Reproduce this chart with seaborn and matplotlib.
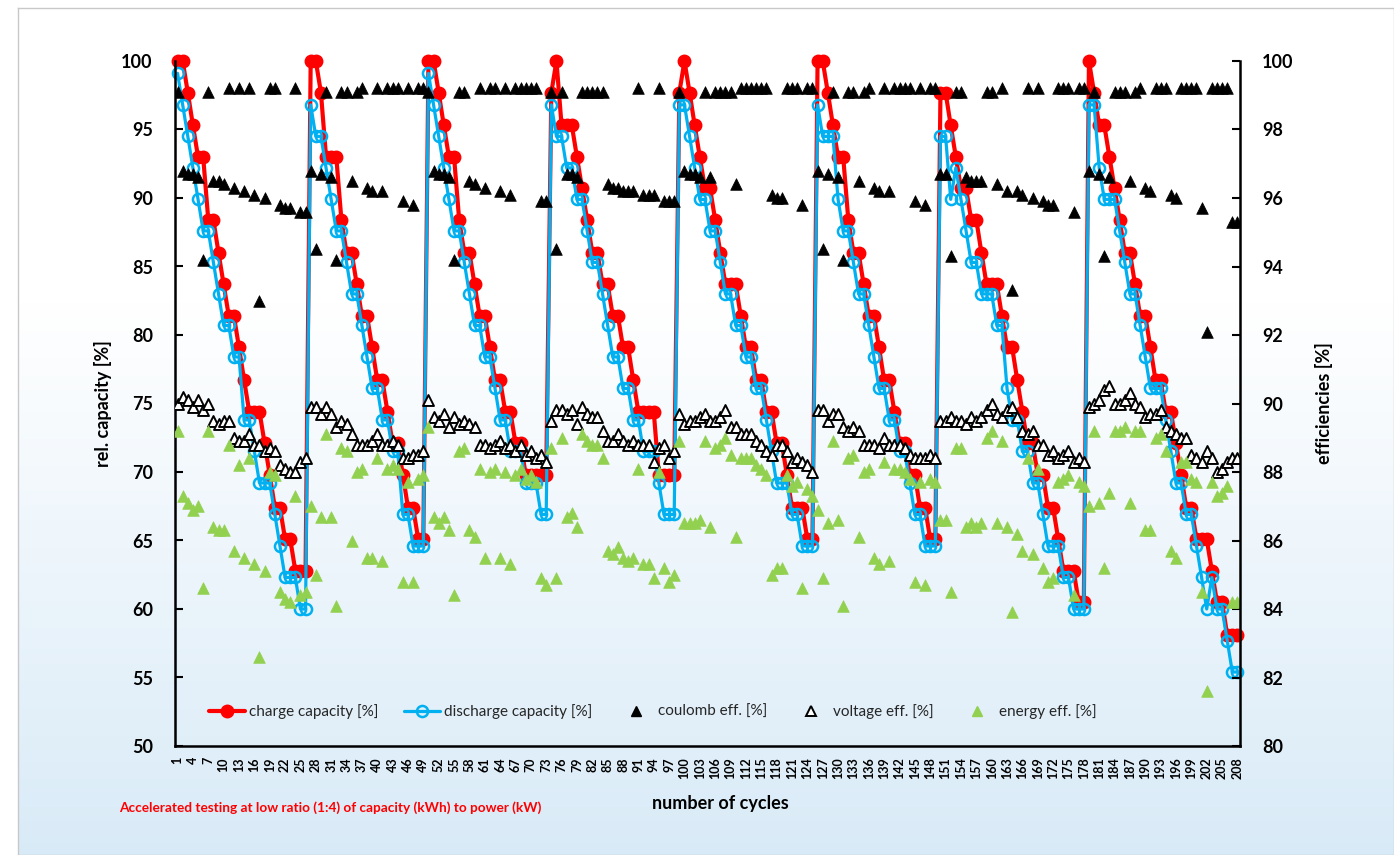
import numpy as np
import matplotlib
matplotlib.use("Agg")
import matplotlib.pyplot as plt
from matplotlib.lines import Line2D
import seaborn as sns

# categories on the x axis
cycles = list(range(1, 209))

# relative capacities [%], one row per charge/discharge block
charge_cap = [
    100.0, 100.0, 97.7, 95.3, 93.0, 93.0, 88.4, 88.4, 86.0, 83.7, 81.4, 81.4, 79.1, 76.7, 74.4, 74.4, 74.4, 72.1, 69.8, 67.4, 67.4, 65.1, 65.1, 62.8, 62.8, 62.8,
    100.0, 100.0, 97.7, 93.0, 93.0, 93.0, 88.4, 86.0, 86.0, 83.7, 81.4, 81.4, 79.1, 76.7, 76.7, 74.4, 72.1, 72.1, 69.8, 67.4, 67.4, 65.1, 65.1,
    100.0, 100.0, 97.7, 95.3, 93.0, 93.0, 88.4, 86.0, 86.0, 83.7, 81.4, 81.4, 79.1, 76.7, 76.7, 74.4, 74.4, 72.1, 72.1, 69.8, 69.8, 69.8, 69.8, 69.8,
    97.7, 100.0, 95.3, 95.3, 95.3, 93.0, 90.7, 88.4, 86.0, 86.0, 83.7, 83.7, 81.4, 81.4, 79.1, 79.1, 76.7, 74.4, 74.4, 74.4, 74.4, 69.8, 69.8, 69.8, 69.8,
    97.7, 100.0, 97.7, 95.3, 93.0, 90.7, 90.7, 88.4, 86.0, 83.7, 83.7, 83.7, 81.4, 79.1, 79.1, 76.7, 76.7, 74.4, 74.4, 72.1, 72.1, 69.8, 67.4, 67.4, 67.4, 65.1, 65.1,
    100.0, 100.0, 97.7, 95.3, 93.0, 93.0, 88.4, 86.0, 86.0, 83.7, 81.4, 81.4, 79.1, 76.7, 76.7, 74.4, 72.1, 72.1, 69.8, 69.8, 67.4, 67.4, 65.1, 65.1,
    97.7, 97.7, 95.3, 93.0, 90.7, 90.7, 88.4, 88.4, 86.0, 83.7, 83.7, 83.7, 81.4, 79.1, 79.1, 76.7, 74.4, 72.1, 72.1, 69.8, 69.8, 67.4, 67.4, 65.1, 62.8, 62.8, 62.8, 60.5, 60.5,
    100.0, 97.7, 95.3, 95.3, 93.0, 90.7, 88.4, 86.0, 86.0, 83.7, 81.4, 81.4, 79.1, 76.7, 76.7, 74.4, 74.4, 72.1, 69.8, 67.4, 67.4, 65.1, 65.1, 65.1, 62.8, 60.5, 60.5, 58.1, 58.1, 58.1,
]
discharge_cap = [
    99.1, 96.8, 94.5, 92.2, 89.9, 87.6, 87.6, 85.3, 83.0, 80.7, 80.7, 78.4, 78.4, 73.8, 73.8, 71.5, 69.2, 69.2, 69.2, 66.9, 64.6, 62.3, 62.3, 62.3, 60.0, 60.0,
    96.8, 94.5, 94.5, 92.2, 89.9, 87.6, 87.6, 85.3, 83.0, 83.0, 80.7, 78.4, 76.1, 76.1, 73.8, 73.8, 71.5, 71.5, 66.9, 66.9, 64.6, 64.6, 64.6,
    99.1, 96.8, 94.5, 92.2, 89.9, 87.6, 87.6, 85.3, 83.0, 80.7, 80.7, 78.4, 78.4, 76.1, 73.8, 73.8, 71.5, 71.5, 71.5, 69.2, 69.2, 69.2, 66.9, 66.9,
    96.8, 94.5, 94.5, 92.2, 92.2, 89.9, 89.9, 87.6, 85.3, 85.3, 83.0, 80.7, 78.4, 78.4, 76.1, 76.1, 73.8, 73.8, 71.5, 71.5, 71.5, 69.2, 66.9, 66.9, 66.9,
    96.8, 96.8, 94.5, 92.2, 89.9, 89.9, 87.6, 87.6, 85.3, 83.0, 83.0, 80.7, 80.7, 78.4, 78.4, 76.1, 76.1, 73.8, 71.5, 69.2, 69.2, 69.2, 66.9, 66.9, 64.6, 64.6, 64.6,
    96.8, 94.5, 94.5, 94.5, 89.9, 87.6, 87.6, 85.3, 83.0, 83.0, 80.7, 78.4, 76.1, 76.1, 73.8, 73.8, 71.5, 71.5, 69.2, 66.9, 66.9, 64.6, 64.6, 64.6,
    94.5, 94.5, 89.9, 92.2, 89.9, 87.6, 85.3, 85.3, 83.0, 83.0, 83.0, 80.7, 80.7, 76.1, 73.8, 73.8, 71.5, 71.5, 69.2, 69.2, 66.9, 64.6, 64.6, 64.6, 62.3, 62.3, 60.0, 60.0, 60.0,
    96.8, 96.8, 92.2, 89.9, 89.9, 89.9, 87.6, 85.3, 83.0, 83.0, 80.7, 78.4, 76.1, 76.1, 76.1, 73.8, 71.5, 69.2, 69.2, 66.9, 66.9, 64.6, 62.3, 60.0, 62.3, 60.0, 60.0, 57.7, 55.4, 55.4,
]

# efficiencies [%]
coulomb_eff = [
    99.1, 96.8, 96.7, 96.7, 96.6, 94.2, 99.1, 96.5, 96.5, 96.4, 99.2, 96.3, 99.2, 96.2, 99.2, 96.1, 93.0, 96.0, 99.2, 99.2, 95.8, 95.7, 95.7, 99.2, 95.6, 95.6,
    96.8, 94.5, 96.7, 99.1, 96.6, 94.2, 99.1, 99.1, 96.5, 99.1, 99.2, 96.3, 96.2, 99.2, 96.2, 99.2, 99.2, 99.2, 95.9, 99.2, 95.8, 99.2, 99.2,
    99.1, 96.8, 96.7, 96.7, 96.6, 94.2, 99.1, 99.1, 96.5, 96.4, 99.2, 96.3, 99.2, 99.2, 96.2, 99.2, 96.1, 99.2, 99.2, 99.2, 99.2, 99.2, 95.9, 95.9,
    99.1, 94.5, 99.1, 96.7, 96.7, 96.6, 99.1, 99.1, 99.1, 99.1, 99.1, 96.4, 96.3, 96.3, 96.2, 96.2, 96.2, 99.2, 96.1, 96.1, 96.1, 99.2, 95.9, 95.9, 95.9,
    99.1, 96.8, 96.7, 96.7, 96.6, 99.1, 96.6, 99.1, 99.1, 99.1, 99.1, 96.4, 99.2, 99.2, 99.2, 99.2, 99.2, 99.2, 96.1, 96.0, 96.0, 99.2, 99.2, 99.2, 95.8, 99.2, 99.2,
    96.8, 94.5, 96.7, 99.1, 96.6, 94.2, 99.1, 99.1, 96.5, 99.1, 99.2, 96.3, 96.2, 99.2, 96.2, 99.2, 99.2, 99.2, 99.2, 95.9, 99.2, 95.8, 99.2, 99.2,
    96.7, 96.7, 94.3, 99.1, 99.1, 96.6, 96.5, 96.5, 96.5, 99.1, 99.1, 96.4, 99.2, 96.2, 93.3, 96.2, 96.1, 99.2, 96.0, 99.2, 95.9, 95.8, 95.8, 99.2, 99.2, 99.2, 95.6, 99.2, 99.2,
    96.8, 99.1, 96.7, 94.3, 96.6, 99.1, 99.1, 99.1, 96.5, 99.1, 99.2, 96.3, 96.2, 99.2, 99.2, 99.2, 96.1, 96.0, 99.2, 99.2, 99.2, 99.2, 95.7, 92.1, 99.2, 99.2, 99.2, 99.2, 95.3, 95.3,
]
voltage_eff = [
    90.0, 90.2, 90.1, 89.9, 90.1, 89.8, 90.0, 89.5, 89.4, 89.5, 89.5, 89.0, 88.9, 88.9, 89.1, 88.8, 88.8, 88.6, 88.7, 88.6, 88.2, 88.1, 88.0, 88.0, 88.3, 88.4,
    89.9, 89.9, 89.7, 89.9, 89.7, 89.3, 89.5, 89.4, 89.1, 88.8, 88.8, 88.8, 88.9, 89.1, 88.8, 88.8, 88.9, 88.8, 88.4, 88.4, 88.5, 88.5, 88.6,
    90.1, 89.6, 89.5, 89.7, 89.3, 89.6, 89.4, 89.5, 89.4, 89.3, 88.8, 88.8, 88.7, 88.8, 88.9, 88.7, 88.8, 88.6, 88.8, 88.5, 88.6, 88.4, 88.5, 88.3,
    89.5, 89.8, 89.8, 89.7, 89.8, 89.4, 89.9, 89.7, 89.6, 89.6, 89.2, 88.9, 88.9, 89.1, 88.9, 88.8, 88.9, 88.8, 88.8, 88.8, 88.3, 88.7, 88.8, 88.4, 88.6,
    89.7, 89.4, 89.5, 89.5, 89.6, 89.7, 89.5, 89.5, 89.6, 89.8, 89.3, 89.3, 89.1, 89.1, 89.1, 88.9, 88.8, 88.6, 88.5, 88.8, 88.8, 88.6, 88.3, 88.4, 88.3, 88.2, 88.0,
    89.8, 89.8, 89.5, 89.7, 89.7, 89.3, 89.2, 89.3, 89.2, 88.8, 88.8, 88.8, 88.7, 89.0, 88.8, 88.8, 88.8, 88.7, 88.5, 88.4, 88.4, 88.4, 88.5, 88.4,
    89.5, 89.5, 89.6, 89.5, 89.5, 89.4, 89.6, 89.5, 89.6, 89.8, 90.0, 89.7, 89.6, 89.8, 89.9, 89.6, 89.2, 89.1, 89.2, 88.8, 88.8, 88.5, 88.6, 88.4, 88.5, 88.6, 88.3, 88.4, 88.3,
    89.9, 90.0, 90.1, 90.4, 90.5, 90.0, 90.0, 90.1, 90.3, 90.0, 89.9, 89.6, 89.7, 89.7, 89.8, 89.3, 89.2, 89.1, 89.0, 89.0, 88.5, 88.4, 88.3, 88.6, 88.4, 88.0, 88.1, 88.3, 88.4, 88.4,
]
energy_eff = [
    89.2, 87.3, 87.1, 86.9, 87.0, 84.6, 89.2, 86.4, 86.3, 86.3, 88.8, 85.7, 88.2, 85.5, 88.4, 85.3, 82.6, 85.1, 88.0, 87.9, 84.5, 84.3, 84.2, 87.3, 84.4, 84.5,
    87.0, 85.0, 86.7, 89.1, 86.7, 84.1, 88.7, 88.6, 86.0, 88.0, 88.1, 85.5, 85.5, 88.4, 85.4, 88.1, 88.2, 88.1, 84.8, 87.7, 84.8, 87.8, 87.9,
    89.3, 86.7, 86.5, 86.7, 86.3, 84.4, 88.6, 88.7, 86.3, 86.1, 88.1, 85.5, 88.0, 88.1, 85.5, 88.0, 85.3, 87.9, 88.1, 87.8, 87.9, 87.7, 84.9, 84.7,
    88.7, 84.9, 89.0, 86.7, 86.8, 86.4, 89.1, 88.9, 88.8, 88.8, 88.4, 85.7, 85.6, 85.8, 85.5, 85.4, 85.5, 88.1, 85.3, 85.3, 84.9, 88.0, 85.2, 84.8, 85.0,
    88.9, 86.5, 86.5, 86.5, 86.6, 88.9, 86.4, 88.7, 88.8, 89.0, 88.5, 86.1, 88.4, 88.4, 88.4, 88.2, 88.1, 87.9, 85.0, 85.2, 85.2, 87.9, 87.6, 87.7, 84.6, 87.5, 87.3,
    86.9, 84.9, 86.5, 88.9, 86.6, 84.1, 88.4, 88.5, 86.1, 88.0, 88.1, 85.5, 85.3, 88.3, 85.4, 88.1, 88.1, 88.0, 87.8, 84.8, 87.7, 84.7, 87.8, 87.7,
    86.6, 86.6, 84.5, 88.7, 88.7, 86.4, 86.5, 86.4, 86.5, 89.0, 89.2, 86.5, 88.9, 86.4, 83.9, 86.2, 85.7, 88.4, 85.6, 88.1, 85.2, 84.8, 84.9, 87.7, 87.8, 87.9, 84.4, 87.7, 87.6,
    87.0, 89.2, 87.1, 85.2, 87.4, 89.2, 89.2, 89.3, 87.1, 89.2, 89.2, 86.3, 86.3, 89.0, 89.1, 88.6, 85.7, 85.5, 88.3, 88.3, 87.8, 87.7, 84.5, 81.6, 87.7, 87.3, 87.4, 87.6, 84.2, 84.2,
]

RED = "#FF0000"
BLUE = "#00B0F0"
GREEN = "#92D050"

sns.set_theme(style="white")
plt.rcParams["font.family"] = ["Lato", "DejaVu Sans"]

W, H = 1394, 855
fig = plt.figure(figsize=(W / 100, H / 100), dpi=100)
fig.patch.set_facecolor("white")

# chart area background: white fading to light blue at the bottom
bg = fig.add_axes([18 / W, 0, 1 - 18 / W, 1 - 8 / H], zorder=-10)
t = np.linspace(0, 1, 400)[:, None]
w = np.clip((t - 0.35) / 0.65, 0, 1)[..., None]
grad = (1 - w) * np.array([1.0, 1.0, 1.0]) + w * np.array([0.85, 0.92, 0.97])
bg.imshow(grad, aspect="auto", extent=[0, 1, 0, 1])
bg.set_xticks([])
bg.set_yticks([])
for s in bg.spines.values():
    s.set_color("#c8c8c8")
    s.set_linewidth(1)

ax = fig.add_axes([175 / W, 1 - 746 / H, 1065 / W, 685 / H])
ax.set_facecolor("none")

sns.lineplot(x=cycles, y=charge_cap, ax=ax, color=RED, linewidth=3,
             marker="o", markersize=9, markerfacecolor=RED,
             markeredgecolor=RED, markeredgewidth=1, clip_on=False, legend=False)
sns.lineplot(x=cycles, y=discharge_cap, ax=ax, color=BLUE, linewidth=2.3,
             marker="o", markersize=8, markerfacecolor="none",
             markeredgecolor=BLUE, markeredgewidth=1.8, clip_on=False, legend=False)

ax.set_xlim(0.5, 208.5)
ax.set_ylim(50, 100)
ax.set_yticks(range(50, 101, 5))
ax.set_xticks(cycles[::3])
ax.set_xticklabels([str(c) for c in cycles[::3]], rotation=90, fontweight="bold")
ax.set_xticks(np.arange(0.5, 209, 1), minor=True)
ax.tick_params(axis="y", direction="in", length=6, width=1.5, pad=16,
               labelsize=13, colors="black")
ax.tick_params(axis="x", which="major", length=0, pad=8, labelsize=9, colors="black")
ax.tick_params(axis="x", which="minor", direction="in", length=4, width=1, colors="black")
for lbl in ax.get_yticklabels():
    lbl.set_fontweight("bold")
ax.set_xlabel("")
ax.set_ylabel("rel. capacity [%]", fontsize=13, fontweight="bold", color="black")
ax.yaxis.set_label_coords(-0.059, 0.5)
ax.text(0.512, -0.071, "number of cycles", transform=ax.transAxes,
        ha="center", va="top", fontsize=13, fontweight="bold", color="black")
for side in ["left", "bottom"]:
    ax.spines[side].set_color("black")
    ax.spines[side].set_linewidth(1.8)
ax.spines["top"].set_visible(False)
ax.spines["right"].set_visible(False)

ax2 = ax.twinx()
ax2.set_facecolor("none")
sns.scatterplot(x=cycles, y=coulomb_eff, ax=ax2, marker="^", s=70,
                color="black", edgecolor="black", linewidth=0.5, legend=False)
sns.scatterplot(x=cycles, y=voltage_eff, ax=ax2, marker="^", s=62,
                color="white", edgecolor="black", linewidth=1.4, legend=False)
sns.scatterplot(x=cycles, y=energy_eff, ax=ax2, marker="^", s=70,
                color=GREEN, edgecolor=GREEN, linewidth=0.5, legend=False)
ax2.set_ylim(80, 100)
ax2.set_yticks(range(80, 101, 2))
ax2.tick_params(axis="y", direction="in", length=6, width=1.5, pad=16,
                labelsize=13, colors="black")
for lbl in ax2.get_yticklabels():
    lbl.set_fontweight("bold")
ax2.set_ylabel("efficiencies [%]", fontsize=13, fontweight="bold", color="black")
ax2.yaxis.set_label_coords(1.070, 0.5)
ax2.spines["right"].set_color("black")
ax2.spines["right"].set_linewidth(1.8)
for side in ["top", "left", "bottom"]:
    ax2.spines[side].set_visible(False)
ax2.grid(False)
ax.grid(False)

handles = [
    Line2D([], [], color=RED, lw=3, marker="o", ms=9, mfc=RED, mec=RED),
    Line2D([], [], color=BLUE, lw=2.3, marker="o", ms=8, mfc="none", mec=BLUE, mew=1.8),
    Line2D([], [], ls="none", marker="^", ms=7, color="black"),
    Line2D([], [], ls="none", marker="^", ms=7, mfc="white", mec="black", mew=1.4),
    Line2D([], [], ls="none", marker="^", ms=7, color=GREEN),
]
labels = ["charge capacity [%]", "discharge capacity [%]", "coulomb eff. [%]",
          "voltage eff. [%]", "energy eff. [%]"]
ax2.legend(handles, labels, loc="center", bbox_to_anchor=(0.449, 0.05), ncol=5,
           frameon=False, fontsize=11, handlelength=2.3, handletextpad=0.3,
           columnspacing=1.7)

fig.text(330 / W, 1 - 808 / H,
         "Accelerated testing at low ratio (1:4) of capacity (kWh) to power (kW)",
         ha="center", va="center", fontsize=9.8, fontweight="bold", color=RED)

fig.savefig("out.png", dpi=100)
